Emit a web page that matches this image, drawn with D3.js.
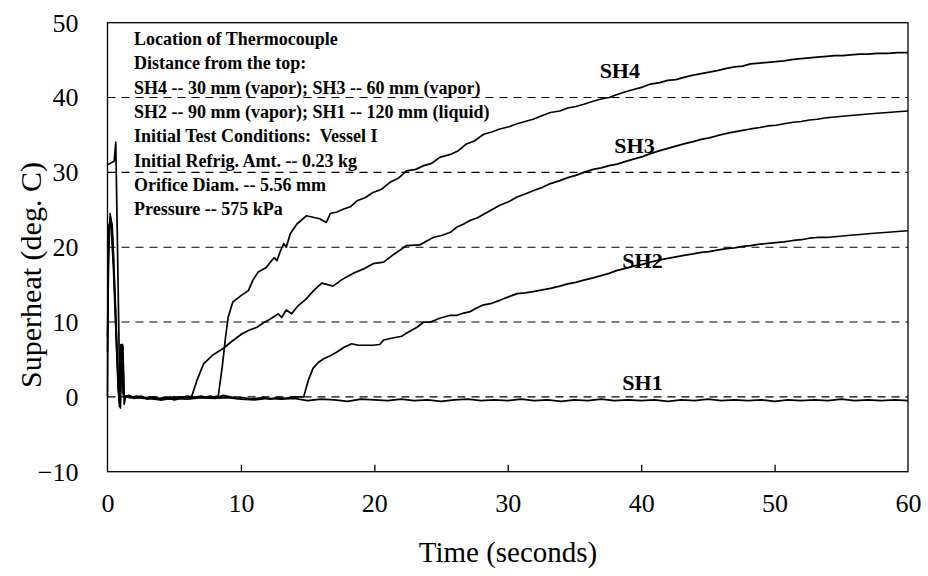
<!DOCTYPE html>
<html>
<head>
<meta charset="utf-8">
<script src="https://cdn.jsdelivr.net/npm/d3@7"></script>
<style>
  html, body { margin: 0; padding: 0; background: #fff; }
  svg { display: block; }
  text { font-family: "Liberation Serif", "Times New Roman", serif; fill: #000; }
</style>
</head>
<body>
<svg id="chart" width="928" height="576"></svg>
<script>
// Thermocouple superheat readings, [time (s), superheat (deg C)]
const sh4 = [
  [0,0],[0.05,18],[0.2,24.5],[0.4,21],[0.7,6],[0.9,-1.3],[1.0,7],[1.15,6.8],[1.25,0],
  [1.6,0.2],[2,-0.1],[2.5,0.1],[3,-0.2],[3.5,0],[4,-0.3],[4.5,-0.1],[5,-0.4],[5.5,-0.2],
  [6,0],[6.5,-0.1],[7,0.1],[7.5,-0.1],[8,0],[8.3,0.1],
  [8.6,4],[8.85,8],[9.05,10.7],[9.4,12.7],[10.06,13.6],[10.56,14.2],[10.9,15.6],[11.3,16.7],
  [11.9,17.3],[12.2,18],[12.5,18.6],[12.7,18.2],[12.9,19.2],[13.2,20.5],[13.4,20],[13.7,21.8],
  [14.2,23.1],[14.9,24.2],[15.4,24],[15.9,23.8],[16.4,23.3],[16.7,24.5],[17.2,24.7],[17.7,25.1],
  [18.2,25.4],[18.7,26.2],[19.3,26.6],[19.9,27.3],[20.5,27.7],[21.2,28.7],[21.8,29.2],[22.4,30.2],
  [23.1,30.4],[23.7,30.9],[24.3,31.2],[24.9,32],[25.7,32.4],[26.3,32.9],[26.9,33.8],[27.5,34.2],
  [28.2,35.1],[28.8,35.4],[29.4,35.8],[30.1,36.1],[30.7,36.5],[31.3,36.8],[31.9,37.1],[32.6,37.6],
  [33.2,38],[33.9,38.2],[34.5,38.6],[35.1,38.8],[35.7,39.1],[36.4,39.5],[37,39.8],[37.6,40],
  [38.2,40.4],[38.9,40.8],[39.5,41.1],[40.1,41.4],[40.7,41.8],[41.4,42],[42,42.3],[42.6,42.4],
  [43.2,42.7],[43.9,43],[44.5,43.2],[45.1,43.4],[45.7,43.6],[46.4,43.9],[47,44.1],[47.6,44.2],
  [48.2,44.5],[48.9,44.6],[49.5,44.7],[50.1,44.8],[50.7,44.9],[51.4,45.1],[52,45.2],[52.6,45.3],
  [53.2,45.4],[53.9,45.5],[54.5,45.6],[55.1,45.6],[55.7,45.7],[56.4,45.8],[57,45.8],[57.7,45.9],
  [58.5,45.9],[59.2,46],[60,46]
];

const sh3 = [
  [0,8],[0.12,23],[0.25,23.5],[0.45,17],[0.8,1],[0.92,-1],[1.05,4],[1.2,0],
  [1.5,0.1],[2,-0.2],[2.5,0],[3,-0.3],[3.5,-0.1],[4,-0.4],[4.5,-0.2],[5,0],[5.5,-0.1],[6,0.1],[6.3,0],
  [6.7,2.2],[7.2,4.4],[7.9,5.6],[8.7,6.5],[9.3,7.4],[10.06,8.4],[10.6,8.9],[11.2,9.3],[11.7,9.9],
  [12.2,10.4],[12.8,11.1],[13.05,10.6],[13.4,11.6],[13.8,11.1],[14.3,12.2],[14.9,13.1],[15.5,14.3],
  [16.06,15.2],[16.5,15],[16.9,14.8],[17.6,15.7],[18.4,16.5],[19.2,17.1],[19.9,17.8],[20.7,18],
  [21.5,19.1],[22.4,20.2],[23.4,20.3],[24.4,21.3],[25.1,21.6],[25.7,22],[26.2,22.7],[26.7,23.1],
  [27.2,23.6],[27.7,23.9],[28.2,24.4],[28.8,25],[29.4,25.6],[30.1,26.1],[30.7,26.7],[31.3,27.1],
  [32,27.6],[32.6,28],[33.2,28.5],[33.9,28.9],[34.5,29.3],[35.1,29.6],[35.7,30],[36.4,30.4],
  [37,30.6],[37.6,30.9],[38.2,31.1],[38.9,31.5],[39.5,31.8],[40.1,32.1],[40.7,32.5],[41.4,32.9],
  [42,33.2],[42.6,33.5],[43.2,33.8],[43.9,34.1],[44.5,34.4],[45.1,34.6],[45.7,34.9],[46.4,35.2],
  [47,35.4],[47.6,35.6],[48.2,35.8],[48.9,36],[49.5,36.2],[50.1,36.3],[50.7,36.5],[51.4,36.7],
  [52,36.8],[52.6,37],[53.2,37.1],[53.9,37.3],[54.5,37.4],[55.1,37.5],[55.7,37.6],[56.4,37.7],
  [57,37.8],[57.7,37.9],[58.5,38],[59.2,38.1],[60,38.2]
];

const sh2 = [
  [0,6],[0.08,22],[0.22,24],[0.35,23],[0.6,12],[0.85,0],[0.95,-1.2],[1.02,5],[1.1,6],[1.18,0.5],[1.3,0],
  [1.7,-0.1],[2.2,0.1],[2.7,-0.2],[3.2,0],[3.7,-0.3],[4.2,-0.1],[4.7,-0.3],[5.2,-0.1],[5.7,0],
  [6.2,-0.2],[6.7,0],[7.2,-0.1],[7.7,0.1],[8.2,-0.1],[8.7,0.2],[9.2,0],[9.7,-0.2],[10.2,-0.1],
  [10.7,-0.3],[11.2,-0.2],[11.7,-0.1],[12.2,-0.3],[12.7,-0.1],[13.2,-0.2],[13.7,-0.1],[14.2,0],[14.7,0],
  [15.05,2.2],[15.4,3.8],[15.8,4.6],[16.2,5.1],[16.7,5.5],[17.2,6],[17.7,6.6],[18.3,7.1],[18.8,6.9],
  [19.2,6.9],[19.9,6.9],[20.4,7],[20.7,7.6],[21.2,7.8],[22.05,8.1],[22.4,8.5],[23.2,9.3],[23.7,10],
  [24.2,10],[24.9,10.5],[25.7,10.9],[26.2,10.9],[26.7,11.2],[27.2,11.4],[27.7,11.9],[28.2,12.3],
  [28.8,12.5],[29.4,12.9],[30.1,13.4],[30.7,13.8],[31.3,13.9],[32,14.1],[32.6,14.3],[33.2,14.5],
  [33.9,14.8],[34.5,15.1],[35.1,15.3],[35.7,15.6],[36.4,15.9],[37,16.2],[37.6,16.5],[38.2,16.9],
  [38.9,17.2],[39.5,17.5],[40.1,17.7],[40.7,18],[41.4,18.3],[42,18.5],[42.6,18.7],[43.2,18.9],
  [43.9,19.1],[44.5,19.3],[45.1,19.4],[45.7,19.6],[46.4,19.8],[47,19.9],[47.6,20.1],[48.2,20.2],
  [48.9,20.4],[49.5,20.5],[50.1,20.6],[50.7,20.7],[51.4,20.9],[52,21],[52.6,21.2],[53.2,21.3],
  [53.9,21.3],[54.5,21.4],[55.1,21.5],[55.7,21.6],[56.4,21.7],[57,21.8],[57.7,21.9],[58.5,22],
  [59.2,22.1],[60,22.2]
];

const sh1 = [
  [0,31],[0.5,31.5],[0.62,34],[0.75,20],[0.9,3],[0.97,-1.5],[1.05,6.5],[1.12,7],[1.2,3],[1.25,-1],[1.35,0],
  [2,-0.1],[3,-0.2],[4,-0.4],[5,-0.2],[6,-0.3],[7,-0.1],[8,-0.2],[9,-0.1],[10,-0.3],[11,-0.4],
  [12,-0.2],[13,-0.3],[14,-0.2],[15,-0.5],[16,-0.3],[17,-0.4],[18,-0.6],[19,-0.3],[20,-0.4],
  [21,-0.5],[22,-0.3],[23,-0.5],[24,-0.4],[25,-0.6],[26,-0.4],[27,-0.3],[28,-0.5],[29,-0.4],
  [30,-0.5],[31,-0.3],[32,-0.5],[33,-0.4],[34,-0.6],[35,-0.4],[36,-0.5],[37,-0.3],[38,-0.5],
  [39,-0.4],[40,-0.5],[41,-0.4],[42,-0.6],[43,-0.4],[44,-0.5],[45,-0.3],[46,-0.5],[47,-0.4],
  [48,-0.5],[49,-0.4],[50,-0.6],[51,-0.4],[52,-0.5],[53,-0.4],[54,-0.5],[55,-0.3],[56,-0.5],
  [57,-0.4],[58,-0.5],[59,-0.4],[60,-0.5]
];

const seriesNames = ["SH4", "SH3", "SH2", "SH1"];
const seriesData = [sh4, sh3, sh2, sh1];
// curve labels, anchored in data units [time, superheat]
const labelAnchors = [[38.4, 42.6], [39.5, 32.6], [40.1, 17.2], [40.1, 0.9]];

const xTicks = [0, 10, 20, 30, 40, 50, 60];
const yTicks = [-10, 0, 10, 20, 30, 40, 50];
const gridValues = [0, 10, 20, 30, 40];

const noteLines = [
  "Location of Thermocouple",
  "Distance from the top:",
  "SH4 -- 30 mm (vapor); SH3 -- 60 mm (vapor)",
  "SH2 -- 90 mm (vapor); SH1 -- 120 mm (liquid)",
  "Initial Test Conditions:  Vessel I",
  "Initial Refrig. Amt. -- 0.23 kg",
  "Orifice Diam. -- 5.56 mm",
  "Pressure -- 575 kPa"
];

const xTitle = "Time (seconds)";
const yTitle = "Superheat (deg. C)";

// ---- layout ----
const svg = d3.select("#chart");
const plot = { left: 107.5, right: 908, top: 22.7, bottom: 471.7 };

const x = d3.scaleLinear().domain([0, 60]).range([plot.left, plot.right]);
const y = d3.scaleLinear().domain([-10, 50]).range([plot.bottom, plot.top]);

// dashed reference lines
svg.append("g")
  .selectAll("line")
  .data(gridValues)
  .join("line")
  .attr("x1", plot.left).attr("x2", plot.right)
  .attr("y1", d => y(d)).attr("y2", d => y(d))
  .attr("stroke", "#000")
  .attr("stroke-width", 1.1)
  .attr("stroke-dasharray", "8,6");

// frame
svg.append("rect")
  .attr("x", plot.left).attr("y", plot.top)
  .attr("width", plot.right - plot.left)
  .attr("height", plot.bottom - plot.top)
  .attr("fill", "none")
  .attr("stroke", "#000")
  .attr("stroke-width", 1.3);

// x axis: inward ticks, labels below
const xAxis = d3.axisBottom(x)
  .tickValues(xTicks)
  .tickSize(-7)
  .tickPadding(22)
  .tickFormat(d3.format("d"));
const gx = svg.append("g")
  .attr("transform", `translate(0,${plot.bottom})`)
  .call(xAxis);
gx.select(".domain").remove();
gx.selectAll(".tick line")
  .attr("stroke", "#000").attr("stroke-width", 1.3)
  .filter(d => d === 0 || d === 60).remove();
gx.selectAll(".tick text")
  .attr("font-size", 26)
  .attr("font-family", "Liberation Serif, serif");

// y axis: labels only
const yAxis = d3.axisLeft(y)
  .tickValues(yTicks)
  .tickSize(0)
  .tickPadding(29)
  .tickFormat(d3.format("d"));
const gy = svg.append("g")
  .attr("transform", `translate(${plot.left},0)`)
  .call(yAxis);
gy.select(".domain").remove();
gy.selectAll(".tick text")
  .attr("font-size", 26)
  .attr("font-family", "Liberation Serif, serif");

// axis titles
svg.append("text")
  .attr("x", 508).attr("y", 562)
  .attr("text-anchor", "middle")
  .attr("font-size", 29)
  .text(xTitle);

svg.append("text")
  .attr("transform", `translate(41,275) rotate(-90)`)
  .attr("text-anchor", "middle")
  .attr("font-size", 30)
  .text(yTitle);

// curves
const line = d3.line().x(d => x(d[0])).y(d => y(d[1]));
svg.append("g")
  .selectAll("path")
  .data(seriesData)
  .join("path")
  .attr("d", line)
  .attr("fill", "none")
  .attr("stroke", "#000")
  .attr("stroke-width", 1.7)
  .attr("stroke-linejoin", "round");

// curve labels
svg.append("g")
  .selectAll("text")
  .data(seriesNames)
  .join("text")
  .attr("x", (d, i) => x(labelAnchors[i][0]))
  .attr("y", (d, i) => y(labelAnchors[i][1]))
  .attr("text-anchor", "middle")
  .attr("font-size", 22)
  .attr("font-weight", "bold")
  .text(d => d);

// test-condition notes
svg.append("g")
  .selectAll("text")
  .data(noteLines)
  .join("text")
  .attr("x", 134)
  .attr("y", (d, i) => 45 + i * 24.3)
  .attr("font-size", 18)
  .attr("font-weight", "bold")
  .style("white-space", "pre")
  .text(d => d);
</script>
</body>
</html>
